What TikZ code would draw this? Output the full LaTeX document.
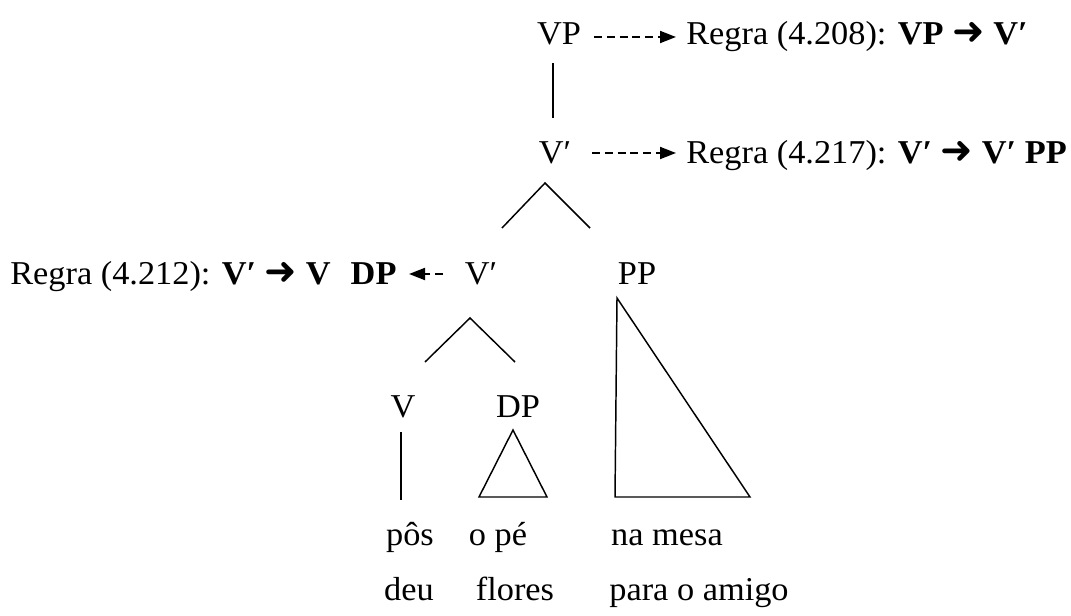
\documentclass[tikz,border=0pt]{standalone}
\usepackage{fontspec}
\setmainfont{Liberation Serif}[FakeStretch=1.03]
\newfontfamily\arrfont{DejaVu Sans}
\usetikzlibrary{arrows.meta,calc}
\newcommand{\rarr}{{\arrfont\bfseries\fontsize{29}{29}\selectfont ➜}}
\begin{document}
\begin{tikzpicture}[x=0.75pt,y=-0.75pt,
  lbl/.style={font=\fontsize{25}{28}\selectfont, inner sep=0pt},
  tline/.style={line width=1.1pt},
  darr/.style={line width=1.4pt, dash pattern=on 6pt off 3.6pt, -{Triangle[length=12pt,width=9pt]}}]
\useasboundingbox (0,0) rectangle (1071,616);
% tree labels
\node[lbl,anchor=base] (vp) at (559,45) {VP};
\node[lbl,anchor=base] (v1) at (555,164) {V′};
\node[lbl,anchor=base] (v2) at (481,285) {V′};
\node[lbl,anchor=base] (pp) at (637,285) {PP};
\node[lbl,anchor=base] (v) at (403,418) {V};
\node[lbl,anchor=base] (dp) at (518,418) {DP};
% rules
\node[lbl,anchor=base west] (r1) at (686,45) {Regra (4.208): \textbf{VP} \rarr{} \textbf{V′}};
\node[lbl,anchor=base west] (r2) at (686,164) {Regra (4.217): \textbf{V′} \rarr{} \textbf{V′ PP}};
\node[lbl,anchor=base west] (r3) at (10,285) {Regra (4.212): \textbf{V′} \rarr{} \textbf{V\hspace{0.6em}DP}};
% words
\node[lbl,anchor=base] (w1) at (410,545) {pôs};
\node[lbl,anchor=base] (w2) at (498,545) {o pé};
\node[lbl,anchor=base] (w3) at (667,545) {na mesa};
\node[lbl,anchor=base] (w4) at (409,600) {deu};
\node[lbl,anchor=base] (w5) at (515,600) {flores};
\node[lbl,anchor=base] (w6) at (699,600) {para o amigo};
% tree lines
\draw[tline] ($(vp.base)+(-6,18)$) -- ($(v1.base)+(-2,-46)$);
\coordinate (a1) at ($(v1.base)+(-10,19)$);
\draw[tline] ($(v2.base)+(21,-57)$) -- (a1) -- ($(pp.base)+(-47,-57)$);
\coordinate (a2) at ($(v2.base)+(-11,33)$);
\draw[tline] ($(v.base)+(22,-56)$) -- (a2) -- ($(dp.base)+(-3,-56)$);
\draw[tline] ($(v.base)+(-2,14)$) -- ($(v.base)+(-2,82)$);
\draw[tline] ($(dp.base)+(-5,12)$) -- ($(dp.base)+(-39,79)$) -- ($(dp.base)+(29,79)$) -- cycle;
\draw[tline] ($(pp.base)+(-20,13)$) -- ($(pp.base)+(-22,212)$) -- ($(pp.base)+(113,212)$) -- cycle;
% dashed arrows
\draw[darr] ($(vp.base)+(35,-8)$) -- ($(r1.base west)+(-10,-8)$);
\draw[darr] ($(v1.base)+(37,-11)$) -- ($(r2.base west)+(-10,-11)$);
\draw[darr] ($(v2.base)+(-38,-11)$) -- ($(v2.base)+(-72,-11)$);
\end{tikzpicture}
\end{document}
